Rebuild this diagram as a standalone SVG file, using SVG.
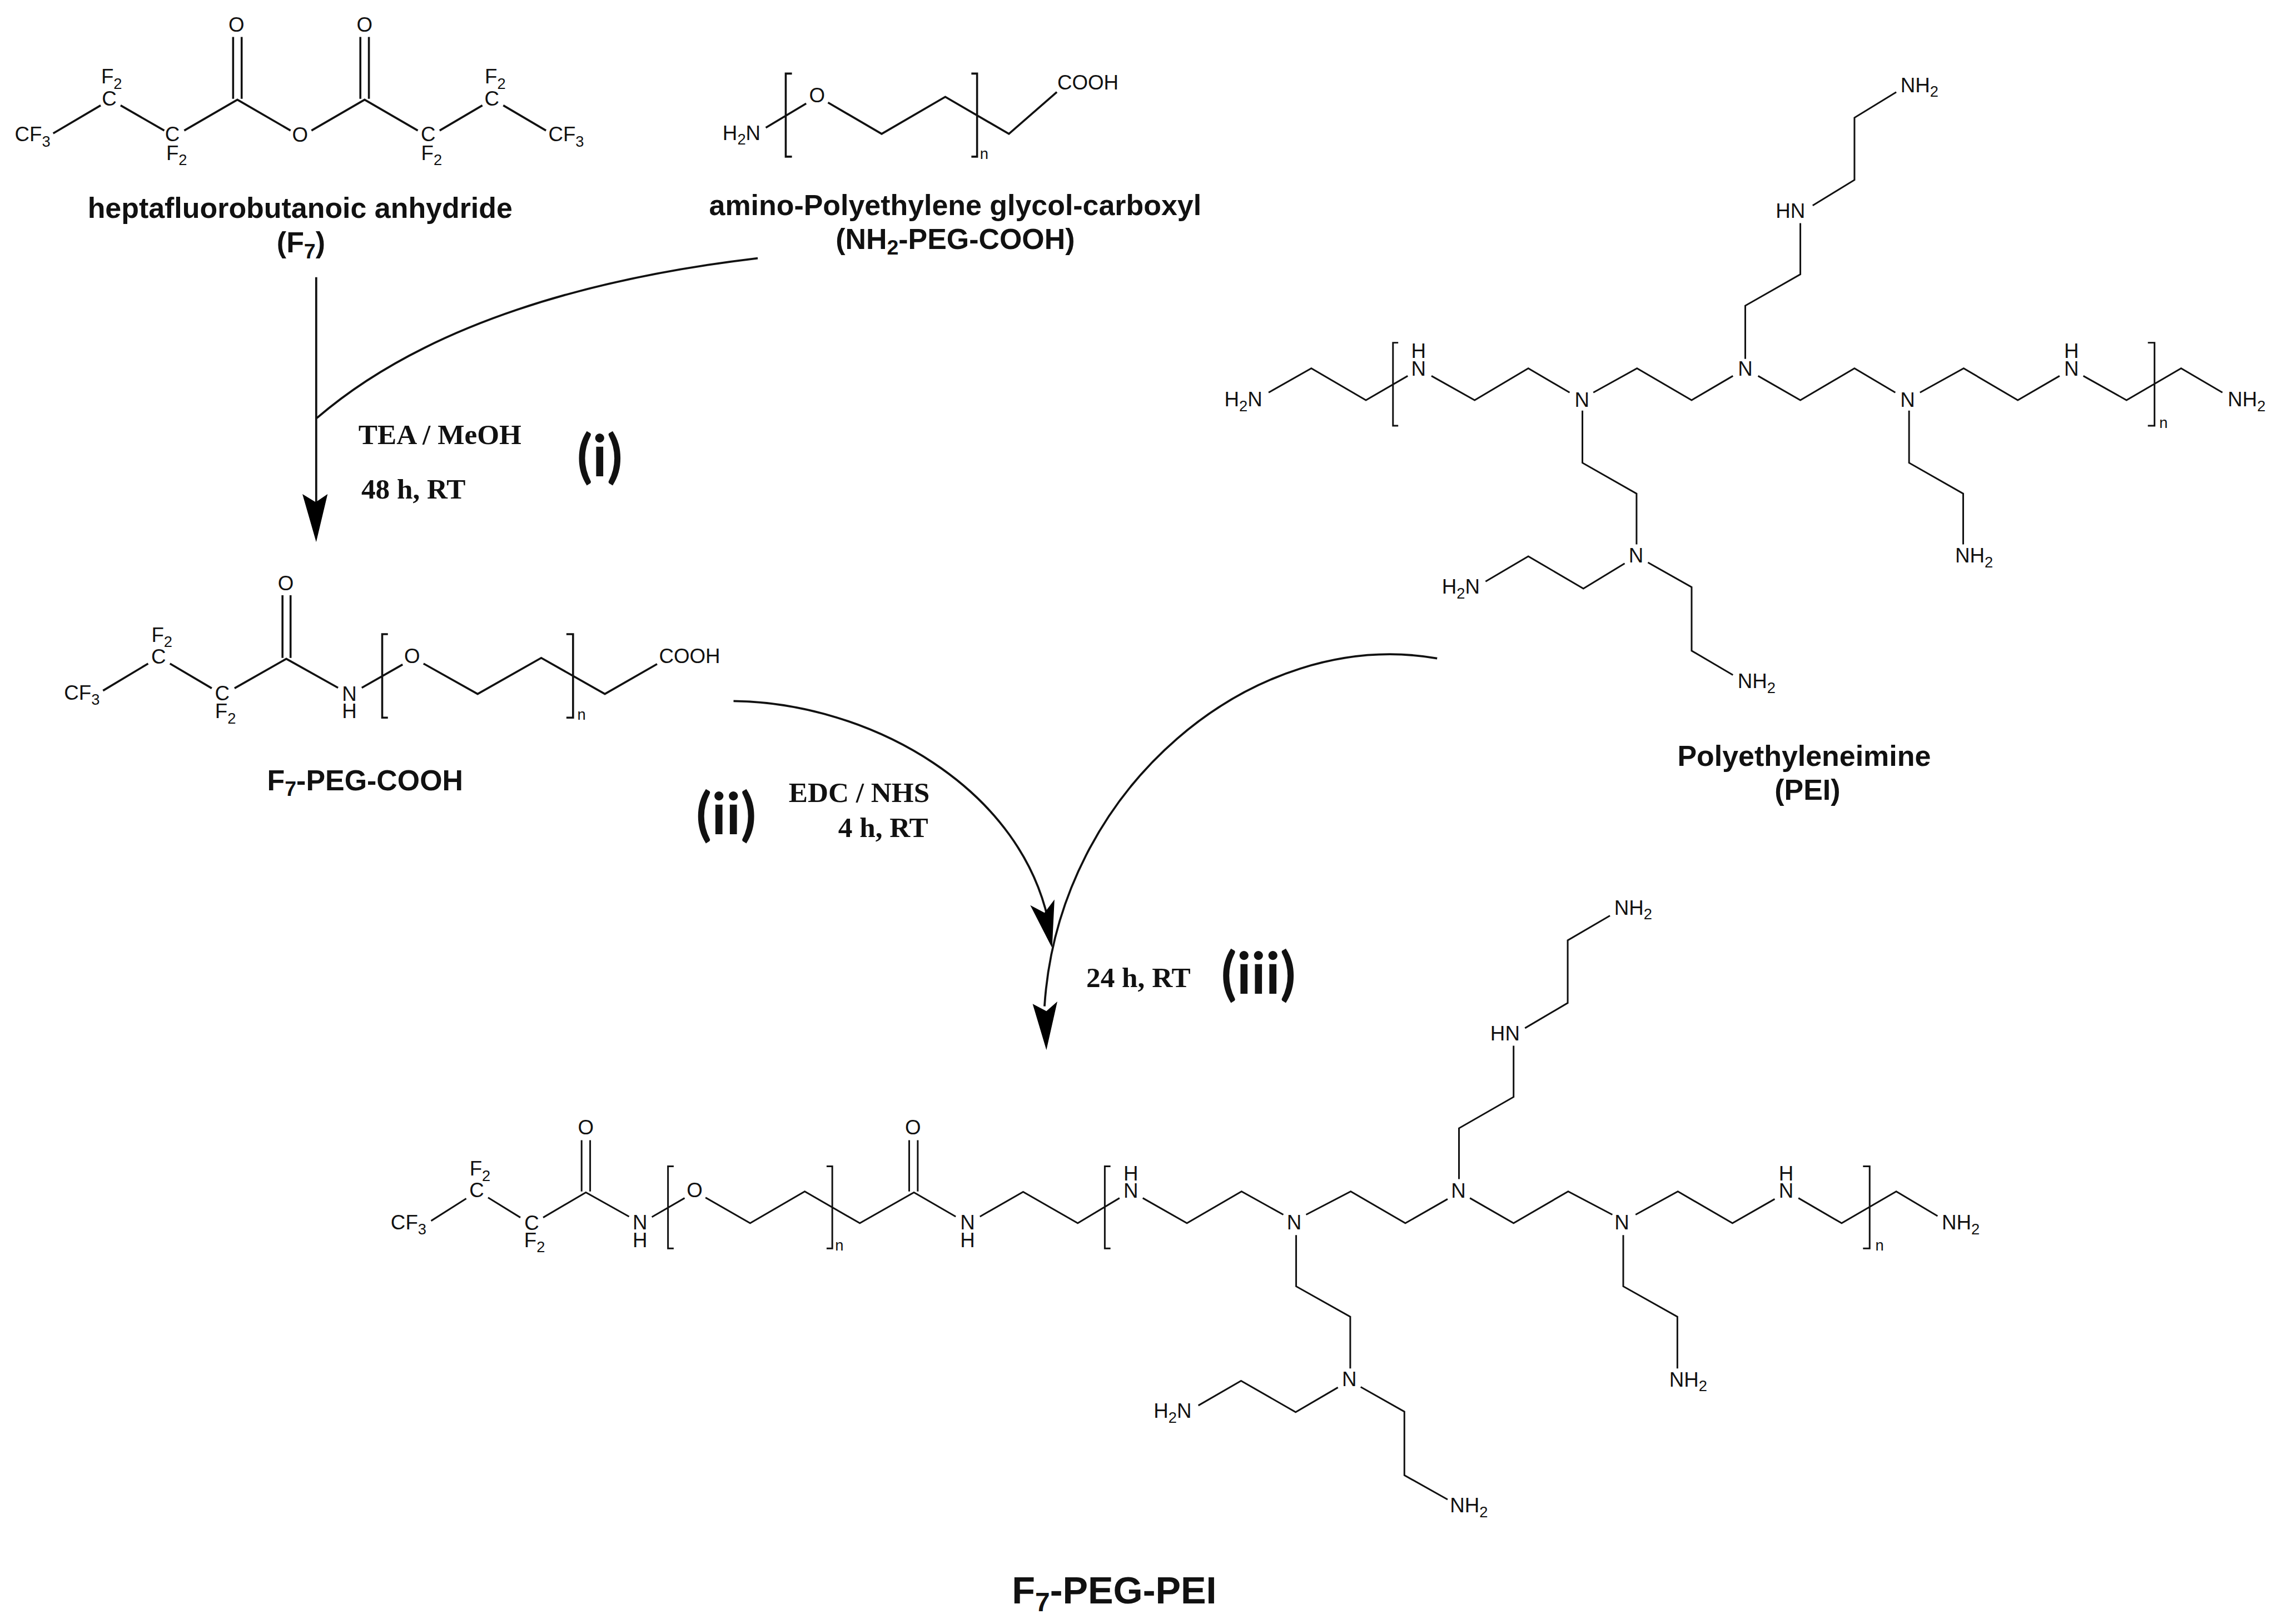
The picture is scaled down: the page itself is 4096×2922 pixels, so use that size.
<svg xmlns="http://www.w3.org/2000/svg" width="4096" height="2922" viewBox="0 0 4096 2922">
<style>
text{fill:#111}
.b{fill:none;stroke:#111;stroke-width:3.5;stroke-linejoin:miter}
.k{fill:none;stroke:#111;stroke-width:4.2;stroke-linejoin:miter}
.a{font:43px "Liberation Sans",Arial,sans-serif}
.m{text-anchor:middle}
.s{font-size:32px}
.n{font:32px "Liberation Sans",Arial,sans-serif}
.t{font:bold 60.8px "Liberation Sans",Arial,sans-serif;text-anchor:middle}
.u{font-size:44px}
.r{font:bold 60px "Liberation Serif","Times New Roman",serif}
.e{text-anchor:end}
.l{font:700 120px Lato,"Open Sans",sans-serif}
.c{fill:none;stroke:#111;stroke-width:4.4}
.h{fill:#000}
</style>
<rect width="4096" height="2922" fill="#fff"/>
<g transform="scale(0.85405)">
<g id="heptafluorobutanoic-anhydride">
<path class="k" d="M112,281L212,222M254,222L346,275M388,275L500,210L612,275M656,275L768,210L880,275M926,275L1016,222M1060,222L1150,275M491,78V208M509,78V208M759,78V208M777,78V208"/>
<text class="a" x="31" y="298">CF<tspan class="s" dy="11">3</tspan></text>
<text class="a m" x="230" y="223">C</text>
<text class="a" x="213" y="176">F<tspan class="s" dy="11">2</tspan></text>
<text class="a m" x="363" y="298">C</text>
<text class="a" x="350" y="337">F<tspan class="s" dy="11">2</tspan></text>
<text class="a m" x="498" y="67">O</text>
<text class="a m" x="632" y="299">O</text>
<text class="a m" x="768" y="67">O</text>
<text class="a m" x="902" y="298">C</text>
<text class="a" x="887" y="337">F<tspan class="s" dy="11">2</tspan></text>
<text class="a m" x="1036" y="223">C</text>
<text class="a" x="1021" y="176">F<tspan class="s" dy="11">2</tspan></text>
<text class="a" x="1155" y="298">CF<tspan class="s" dy="11">3</tspan></text>
<text class="t" x="632" y="459">heptafluorobutanoic anhydride</text>
<text class="t" x="634" y="532">(F<tspan class="u" dy="12">7</tspan><tspan dy="-12">)</tspan></text>
</g>
<g id="nh2-peg-cooh">
<path class="k" d="M1613,269L1698,218M1744,216L1857,282L1991,204L2125,282L2226,194M1668,155H1655V330H1668M2046,155H2058V330H2046"/>
<text class="a" x="1522" y="295">H<tspan class="s" dy="10">2</tspan><tspan dy="-10">N</tspan></text>
<text class="a m" x="1721" y="216">O</text>
<text class="n" x="2064" y="335">n</text>
<text class="a" x="2227" y="189">COOH</text>
<text class="t" x="2012" y="453">amino-Polyethylene glycol-carboxyl</text>
<text class="t" x="2012" y="524">(NH<tspan class="u" dy="12">2</tspan><tspan dy="-12">-PEG-COOH)</tspan></text>
</g>
<g id="f7-peg-cooh">
<path class="k" d="M217,1455L312,1398M358,1398L446,1450M494,1450L603,1388L712,1449M762,1449L848,1400M892,1398L1006,1462L1140,1386L1274,1462L1384,1399M595,1254V1386M612,1254V1386M817,1336H805V1512H817M1193,1336H1207V1512H1193"/>
<text class="a" x="135" y="1474">CF<tspan class="s" dy="11">3</tspan></text>
<text class="a m" x="334" y="1398">C</text>
<text class="a" x="319" y="1352">F<tspan class="s" dy="11">2</tspan></text>
<text class="a m" x="468" y="1475">C</text>
<text class="a" x="453" y="1513">F<tspan class="s" dy="11">2</tspan></text>
<text class="a m" x="602" y="1243">O</text>
<text class="a m" x="736" y="1476">N</text>
<text class="a m" x="736" y="1513">H</text>
<text class="a m" x="868" y="1397">O</text>
<text class="n" x="1216" y="1516">n</text>
<text class="a" x="1388" y="1397">COOH</text>
<text class="t" x="769" y="1665">F<tspan class="u" dy="12">7</tspan><tspan dy="-12">-PEG-COOH</tspan></text>
</g>
<g id="pei">
<path class="b" d="M2672,827L2762,776L2877,843L2965,792M3015,792L3106,843L3219,776L3306,827M3356,827L3448,776L3563,843L3650,792M3703,792L3792,843L3906,776L3992,827M4044,827L4136,776L4250,843L4338,792M4388,792L4479,843L4594,776L4681,827M3676,756V644L3792,578V470M3818,433L3906,379V248L3994,194M3333,865V975L3447,1040V1147M3422,1187L3335,1240L3219,1172L3129,1225M3471,1185L3563,1237V1371L3650,1422M4021,865V975L4135,1040V1147M2945,722H2934V897H2945M4524,722H4538V897H4524"/>
<text class="a" x="2579" y="856">H<tspan class="s" dy="10">2</tspan><tspan dy="-10">N</tspan></text>
<text class="a m" x="2988" y="791">N</text>
<text class="a m" x="2988" y="754">H</text>
<text class="a m" x="3332" y="857">N</text>
<text class="a m" x="3676" y="791">N</text>
<text class="a m" x="4018" y="857">N</text>
<text class="a m" x="4363" y="791">N</text>
<text class="a m" x="4363" y="754">H</text>
<text class="a" x="4692" y="856">NH<tspan class="s" dy="10">2</tspan></text>
<text class="n" x="4548" y="902">n</text>
<text class="a" x="3740" y="459">HN</text>
<text class="a" x="4003" y="194">NH<tspan class="s" dy="10">2</tspan></text>
<text class="a m" x="3446" y="1185">N</text>
<text class="a" x="3037" y="1251">H<tspan class="s" dy="10">2</tspan><tspan dy="-10">N</tspan></text>
<text class="a" x="3660" y="1450">NH<tspan class="s" dy="10">2</tspan></text>
<text class="a" x="4118" y="1185">NH<tspan class="s" dy="10">2</tspan></text>
<text class="t" x="3800" y="1614">Polyethyleneimine</text>
<text class="t" x="3807" y="1685">(PEI)</text>
</g>
<g id="f7-peg-pei">
<path class="b" d="M908,2572L982,2525M1028,2523L1096,2565M1144,2565L1234,2512L1325,2563M1373,2564L1442,2524M1486,2523L1580,2577L1695,2510L1811,2577L1925,2512L2013,2563M2064,2563L2155,2511L2270,2577L2358,2524M2407,2524L2500,2577L2615,2510L2703,2559M2751,2559L2845,2510L2960,2577L3049,2526M3096,2524L3188,2577L3303,2510L3396,2559M3445,2559L3534,2510L3649,2577L3738,2526M3788,2524L3879,2577L3994,2510L4081,2562M3073,2484V2377L3188,2311V2203M3212,2166L3302,2113V1981L3391,1929M2730,2602V2710L2844,2774V2883M2818,2923L2729,2975L2614,2909L2524,2961M2866,2922L2958,2974V3108L3049,3159M3419,2602V2710L3533,2774V2883M1225,2402V2510M1243,2402V2510M1915,2402V2510M1933,2402V2510M1419,2457H1407V2630H1419M1741,2457H1753V2630H1741M2339,2457H2327V2630H2339M3924,2457H3938V2630H3924"/>
<text class="a" x="823" y="2590">CF<tspan class="s" dy="11">3</tspan></text>
<text class="a m" x="1004" y="2522">C</text>
<text class="a" x="989" y="2477">F<tspan class="s" dy="11">2</tspan></text>
<text class="a m" x="1120" y="2591">C</text>
<text class="a" x="1104" y="2627">F<tspan class="s" dy="11">2</tspan></text>
<text class="a m" x="1234" y="2390">O</text>
<text class="a m" x="1348" y="2590">N</text>
<text class="a m" x="1348" y="2627">H</text>
<text class="a m" x="1463" y="2522">O</text>
<text class="n" x="1759" y="2635">n</text>
<text class="a m" x="1923" y="2390">O</text>
<text class="a m" x="2038" y="2590">N</text>
<text class="a m" x="2038" y="2627">H</text>
<text class="a m" x="2382" y="2523">N</text>
<text class="a m" x="2382" y="2487">H</text>
<text class="a m" x="2726" y="2590">N</text>
<text class="a m" x="3072" y="2523">N</text>
<text class="a m" x="3416" y="2590">N</text>
<text class="a m" x="3762" y="2523">N</text>
<text class="a m" x="3762" y="2487">H</text>
<text class="a" x="4090" y="2590">NH<tspan class="s" dy="10">2</tspan></text>
<text class="n" x="3950" y="2635">n</text>
<text class="a" x="3139" y="2192">HN</text>
<text class="a" x="3400" y="1927">NH<tspan class="s" dy="10">2</tspan></text>
<text class="a m" x="2842" y="2920">N</text>
<text class="a" x="2430" y="2987">H<tspan class="s" dy="10">2</tspan><tspan dy="-10">N</tspan></text>
<text class="a" x="3054" y="3186">NH<tspan class="s" dy="10">2</tspan></text>
<text class="a" x="3516" y="2921">NH<tspan class="s" dy="10">2</tspan></text>
<text class="t" x="2347" y="3378" style="font-size:80px">F<tspan dy="16" style="font-size:56px">7</tspan><tspan dy="-16">-PEG-PEI</tspan></text>
</g>
<g id="connectors">
<path class="c" d="M666,584V1060"/>
<path class="c" d="M667,881C900,680 1250,585 1596,544"/>
<polygon class="h" points="666,1142 637,1041 665,1058 690,1041"/>
<path class="c" d="M1545,1477C1830,1480 2160,1660 2212,1960"/>
<polygon class="h" points="2216,1997 2170,1907 2200,1923 2221,1895"/>
<path class="c" d="M3027,1387C2640,1320 2230,1660 2200,2120"/>
<polygon class="h" points="2204,2212 2175,2115 2204,2130 2227,2110"/>
</g>
<g id="labels">
<text class="r" x="755" y="936">TEA / MeOH</text>
<text class="r" x="761" y="1050">48 h, RT</text>
<text class="l" x="1215" y="1003">(i)</text>
<text class="r e" x="1958" y="1690">EDC / NHS</text>
<text class="r e" x="1955" y="1763">4 h, RT</text>
<text class="l" x="1466" y="1758">(ii)</text>
<text class="r" x="2288" y="2080">24 h, RT</text>
<text class="l" x="2572" y="2094">(iii)</text>
</g>
</g>
</svg>
